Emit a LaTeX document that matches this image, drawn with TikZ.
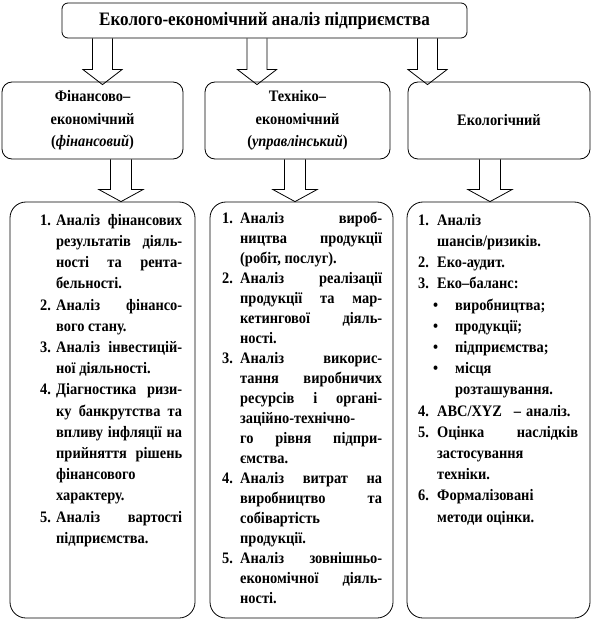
\documentclass[tikz,border=0pt]{standalone}
\usepackage{fontspec}
\setmainfont{Liberation Serif}[FakeStretch=0.9]
\usetikzlibrary{calc}
\newlength\numhang
\newlength\bulgap
\newcommand{\No}[1]{\makebox[\numhang][l]{#1}}
\newcommand{\Bu}{\makebox[\bulgap][l]{\hspace*{-4pt}\textbullet}}
\newcommand{\J}{\linebreak}
\newcommand{\E}{\newline}
\newcommand{\topstrut}{\rule{0pt}{12pt}}
\newcommand{\listsetup}{\parindent=0pt\parskip=0pt
  \exhyphenpenalty=10000\hyphenpenalty=10000\tolerance=10000\hbadness=10000}
\newcommand{\blockarrow}[6]{%
  \draw[barrow] let \p1=(#1), \p2=(#2) in
   (\x1-#3,\y1) -- (\x1-#3,\y2-#6+#5) -- (\x1-#4,\y2-#6+#5) -- (\x1,\y2-#6)
   -- (\x1+#4,\y2-#6+#5) -- (\x1+#3,\y2-#6+#5) -- (\x1+#3,\y1);}
\tikzset{
  box/.style={draw=black, line width=0.8pt, fill=white, inner sep=0pt},
  toptext/.style={font=\bfseries\fontsize{19}{22}\selectfont},
  midtext/.style={align=center, font=\bfseries\fontsize{16}{22.5}\selectfont},
  lst/.style={anchor=north west, inner sep=0pt, align=justify,
    font=\bfseries\fontsize{16}{21.2}\selectfont},
  barrow/.style={draw=black, line width=0.8pt, line join=miter},
}
\begin{document}
\begin{tikzpicture}[x=1pt, y=-1pt]
\fill[white] (0,0) rectangle (593,620);
\useasboundingbox (0,0) rectangle (593,620);
% title
\node[box, rounded corners=6pt, minimum width=405pt, minimum height=35pt, toptext] (T) at (264.5,20.5) {Еколого-економічний аналіз підприємства};
% middle boxes
\node[box, rounded corners=10pt, minimum width=181pt, minimum height=77pt, midtext] (B1) at (92.5,120.5) {Фінансово–\\економічний\\(\textit{фінансовий})};
\node[box, rounded corners=10pt, minimum width=185pt, minimum height=77pt, midtext] (B2) at (297.5,120.5) {Техніко–\\економічний\\(\textit{управлінський})};
\node[box, rounded corners=10pt, minimum width=182pt, minimum height=77pt, midtext] (B3) at (499,120.5) {Екологічний};
% bottom boxes
\node[box, rounded corners=16pt, minimum width=185pt, minimum height=416pt] (C1) at (102.5,410) {};
\node[box, rounded corners=16pt, minimum width=183pt, minimum height=416pt] (C2) at (301.5,410) {};
\node[box, rounded corners=16pt, minimum width=183pt, minimum height=416pt] (C3) at (498.5,410) {};
% arrow axes
\coordinate (ax1) at (102.5,0);
\coordinate (ax2) at (257,0);
\coordinate (ax3) at (427.5,0);
\coordinate (bx1) at (121,0);
\coordinate (bx2) at (295,0);
\coordinate (bx3) at (490,0);
\blockarrow{T.south -| ax1}{B1.north -| ax1}{10pt}{19.5pt}{15pt}{3pt}
\blockarrow{T.south -| ax2}{B2.north -| ax2}{10pt}{19.5pt}{15pt}{3pt}
\blockarrow{T.south -| ax3}{B3.north -| ax3}{10pt}{19.5pt}{15pt}{3pt}
\blockarrow{B1.south -| bx1}{C1.north -| bx1}{10.5pt}{22pt}{12pt}{0pt}
\blockarrow{B2.south -| bx2}{C2.north -| bx2}{10.5pt}{22pt}{12pt}{0pt}
\blockarrow{B3.south -| bx3}{C3.north -| bx3}{10.5pt}{22pt}{12pt}{0pt}
% lists
\node[lst, text width=142pt] (L1) at (40,213) {%
\listsetup\setlength\numhang{16pt}%
\def\NL{0pt 142pt}\def\CL{16pt 126pt}%
\parshape 16 \NL \CL \CL \CL \NL \CL \NL \CL \NL \CL \CL \CL \CL \CL \NL \CL
\noindent\topstrut\No{1.}Аналіз фінансових\J результатів діяль-\J ності та рента-\J бельності.\E
\No{2.}Аналіз фінансо-\J вого стану.\E
\No{3.}Аналіз інвестицій-\J ної діяльності.\E
\No{4.}Діагностика ризи-\J ку банкрутства та\J впливу інфляції на\J прийняття рішень\J фінансового\J характеру.\E
\No{5.}Аналіз вартості\J підприємства.\par};
\node[lst, text width=160pt, font=\bfseries\fontsize{16}{20}\selectfont] (L2) at (222,211) {%
\listsetup\setlength\numhang{18pt}%
\def\NL{0pt 160pt}\def\CL{18pt 142pt}%
\parshape 20 \NL \CL \CL \NL \CL \CL \CL \NL \CL \CL \CL \CL \CL \NL \CL \CL \CL \NL \CL \CL
\noindent\topstrut\No{1.}Аналіз вироб-\J ництва продукції\J (робіт, послуг).\E
\No{2.}Аналіз реалізації\J продукції та мар-\J кетингової діяль-\J ності.\E
\No{3.}Аналіз викорис-\J тання виробничих\J ресурсів і органі-\J заційно-технічно-\J го рівня підпри-\J ємства.\E
\No{4.}Аналіз витрат на\J виробництво та\J собівартість\J продукції.\E
\No{5.}Аналіз зовнішньо-\J економічної діяль-\J ності.\par};
\node[lst, text width=160pt] (L3) at (418,213) {%
\listsetup\setlength\numhang{19pt}\setlength\bulgap{18pt}%
\def\NL{0pt 160pt}\def\CL{19pt 141pt}\def\BL{37pt 123pt}%
\parshape 15 \NL \CL \NL \NL \CL \CL \CL \CL \BL \NL \NL \CL \CL \NL \CL
\noindent\topstrut\No{1.}Аналіз\J шансів/ризиків.\E
\No{2.}Еко-аудит.\E
\No{3.}Еко–баланс:\E
\Bu виробництва;\E
\Bu продукції;\E
\Bu підприємства;\E
\Bu місця\J розташування.\E
\No{4.}ABC/XYZ\hspace{12pt}–\hspace{5pt}аналіз.\E
\No{5.}Оцінка наслідків\J застосування\J техніки.\E
\No{6.}Формалізовані\J методи оцінки.\par};
\end{tikzpicture}
\end{document}
